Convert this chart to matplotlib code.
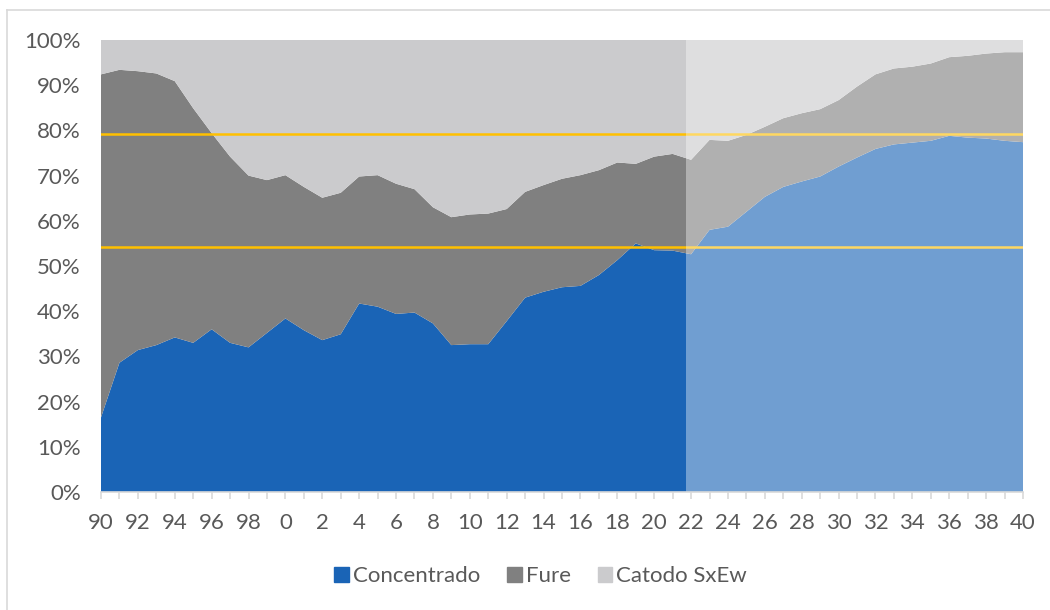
import numpy as np
import matplotlib.pyplot as plt
from matplotlib.lines import Line2D
from matplotlib.patches import Patch

plt.rcParams['font.family'] = ['Lato', 'DejaVu Sans']

# Participación por tipo de producto (%), 1990-2040
anios = list(range(1990, 2041))
concentrado = [16.5, 28.6, 31.4, 32.5, 34.2, 33.0, 36.0, 33.0, 32.0, 35.2,
               38.4, 35.8, 33.6, 34.9, 41.7, 41.0, 39.4, 39.7, 37.3, 32.5,
               32.7, 32.7, 37.8, 43.0, 44.3, 45.3, 45.6, 48.0, 51.3, 55.0,
               53.5, 53.4, 52.6, 58.0, 58.7, 62.0, 65.3, 67.5, 68.7, 69.8,
               72.0, 74.0, 75.9, 76.9, 77.3, 77.7, 78.8, 78.4, 78.2, 77.7, 77.4]
fure = [75.9, 64.8, 61.7, 60.1, 56.7, 51.9, 43.4, 41.2, 38.0, 33.8,
        31.7, 31.7, 31.5, 31.3, 28.1, 29.1, 28.8, 27.3, 25.7, 28.3,
        28.7, 28.9, 24.8, 23.4, 23.6, 24.0, 24.5, 23.2, 21.6, 17.6,
        20.7, 21.4, 20.9, 19.9, 19.0, 17.0, 15.5, 15.2, 15.1, 14.9,
        14.7, 15.7, 16.5, 16.8, 16.8, 17.1, 17.4, 18.1, 18.8, 19.6, 19.9]
catodo = [7.6, 6.6, 6.9, 7.4, 9.1, 15.1, 20.6, 25.8, 30.0, 31.0,
          29.9, 32.5, 34.9, 33.8, 30.2, 29.9, 31.8, 33.0, 37.0, 39.2,
          38.6, 38.4, 37.4, 33.6, 32.1, 30.7, 29.9, 28.8, 27.1, 27.4,
          25.8, 25.2, 26.5, 22.1, 22.3, 21.0, 19.2, 17.3, 16.2, 15.3,
          13.3, 10.3, 7.6, 6.3, 5.9, 5.2, 3.8, 3.5, 3.0, 2.7, 2.7]
lineas_ref = [79.1, 54.1]
inicio_proyeccion = 2021.75
nombres = ['Concentrado', 'Fure', 'Catodo SxEw']
colores = ['#1A64B6', '#808080', '#CBCBCD']

datos = np.array([concentrado, fure, catodo], dtype=float)
datos = datos / datos.sum(axis=0) * 100

fig = plt.figure(figsize=(10.5, 6.1), dpi=100)
ax = fig.add_axes([101 / 1050, 1 - 492 / 610, 922 / 1050, 452 / 610])

ax.stackplot(anios, datos, colors=colores, linewidth=0)
for y in lineas_ref:
    ax.axhline(y, color='#FFC000', linewidth=1.8, zorder=3)

# zona proyectada, aclarada
ax.axvspan(inicio_proyeccion, 2040, color='white', alpha=0.38, linewidth=0, zorder=4)

ax.set_xlim(1990, 2040)
ax.set_ylim(0, 100)
ax.set_yticks(range(0, 101, 10))
ax.set_yticklabels([f'{v}%' for v in range(0, 101, 10)])
ax.set_xticks(range(1990, 2041, 2))
ax.set_xticklabels([str(a % 100) for a in range(1990, 2041, 2)])
ax.set_xticks(anios, minor=True)

for s in ['top', 'right', 'left']:
    ax.spines[s].set_visible(False)
ax.spines['bottom'].set_color('#D9D9D9')
ax.spines['bottom'].set_linewidth(1.2)
ax.spines['bottom'].set_zorder(5)
ax.tick_params(axis='y', length=0, pad=14.5, labelsize=16, labelcolor='#595959')
ax.tick_params(axis='x', which='both', length=5, color='#D9D9D9', width=1.2,
               labelsize=16, labelcolor='#595959', pad=10)

handles = [Patch(color=c, label=n) for c, n in zip(colores, nombres)]
fig.legend(handles=handles, loc='center', bbox_to_anchor=(0.515, 1 - 576 / 610), ncol=3,
           frameon=False, fontsize=16, labelcolor='#595959', handlelength=0.65,
           handleheight=0.65, handletextpad=0.2, columnspacing=1.2)

# borde del área del gráfico
fig.add_artist(Line2D([7 / 1050, 7 / 1050], [0, 1 - 10 / 610], color='#D9D9D9', lw=1.2))
fig.add_artist(Line2D([7 / 1050, 1], [1 - 10 / 610, 1 - 10 / 610], color='#D9D9D9', lw=1.2))

fig.savefig('out.png', dpi=100)
